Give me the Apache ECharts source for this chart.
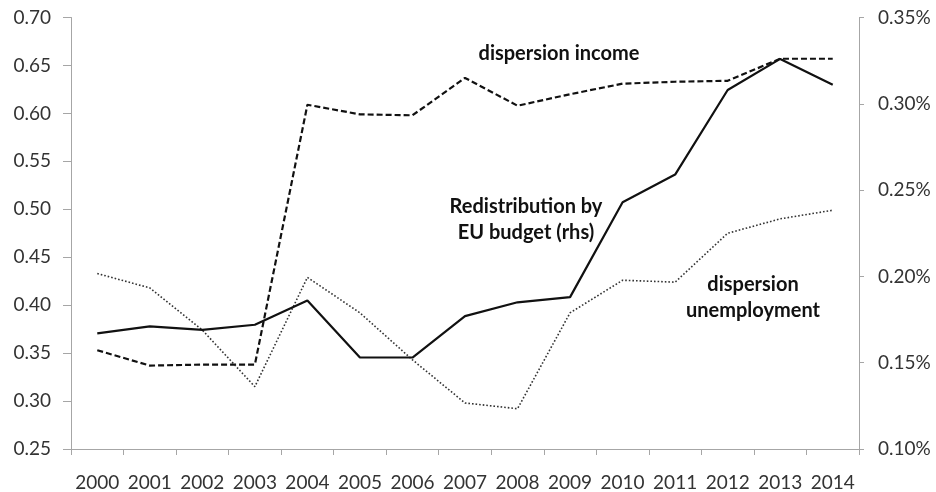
<!DOCTYPE html>
<html>
<head>
<meta charset="utf-8">
<script src="https://cdn.jsdelivr.net/npm/echarts@6/dist/echarts.min.js"></script>
<style>
html,body{margin:0;padding:0;background:#fff;}
#chart{width:936px;height:492px;}
</style>
</head>
<body>
<div id="chart"></div>
<script>
var years = ['2000','2001','2002','2003','2004','2005','2006','2007','2008','2009','2010','2011','2012','2013','2014'];
var dispersionIncome = [0.353, 0.337, 0.338, 0.338, 0.609, 0.599, 0.598, 0.637, 0.608, 0.620, 0.631, 0.633, 0.634, 0.657, 0.657];
var dispersionUnemployment = [0.433, 0.418, 0.374, 0.315, 0.429, 0.392, 0.343, 0.298, 0.292, 0.392, 0.426, 0.424, 0.475, 0.490, 0.499];
var redistributionEU = [0.167, 0.171, 0.169, 0.172, 0.186, 0.153, 0.153, 0.177, 0.185, 0.188, 0.243, 0.259, 0.308, 0.326, 0.311];
var labelIncome = 'dispersion income';
var labelRedistribution = ['Redistribution by', 'EU budget (rhs)'];
var labelUnemployment = ['dispersion', 'unemployment'];

var FONT = 'Lato, sans-serif';
var axisGray = '#a6a6a6';
var labelColor = '#333333';

var chart = echarts.init(document.getElementById('chart'), null, {renderer: 'canvas'});
var annFont = 'bold 20px Lato, sans-serif';
chart.setOption({
  animation: false,
  backgroundColor: '#ffffff',
  grid: {left: 71, right: 77, top: 17.5, bottom: 43, containLabel: false},
  xAxis: {
    type: 'category',
    data: years,
    boundaryGap: true,
    axisLine: {lineStyle: {color: axisGray, width: 1}},
    axisTick: {show: true, length: 6, lineStyle: {color: axisGray}},
    axisLabel: {color: labelColor, fontSize: 19, fontFamily: FONT, margin: 24, interval: 0}
  },
  yAxis: [{
    type: 'value',
    min: 0.25, max: 0.70, interval: 0.05,
    splitLine: {show: false},
    axisLine: {show: true, lineStyle: {color: axisGray, width: 1}},
    axisTick: {show: true, length: 8, lineStyle: {color: axisGray}},
    axisLabel: {color: labelColor, fontSize: 19, fontFamily: FONT, margin: 20,
      formatter: function (v) { return v.toFixed(2); }}
  }, {
    type: 'value',
    position: 'right',
    min: 0.10, max: 0.35, interval: 0.05,
    splitLine: {show: false},
    axisLine: {show: true, lineStyle: {color: axisGray, width: 1}},
    axisTick: {show: true, length: 5, lineStyle: {color: axisGray}},
    axisLabel: {color: labelColor, fontSize: 19, fontFamily: FONT, margin: 19,
      formatter: function (v) { return v.toFixed(2) + '%'; }}
  }],
  series: [{
    name: 'dispersion income',
    type: 'line',
    yAxisIndex: 0,
    data: dispersionIncome,
    symbol: 'none',
    lineStyle: {color: '#111', width: 2.2, type: [6, 3]}
  }, {
    name: 'dispersion unemployment',
    type: 'line',
    yAxisIndex: 0,
    data: dispersionUnemployment,
    symbol: 'none',
    lineStyle: {color: '#333', width: 1.6, type: [1.6, 2]}
  }, {
    name: 'Redistribution by EU budget (rhs)',
    type: 'line',
    yAxisIndex: 1,
    data: redistributionEU,
    symbol: 'none',
    lineStyle: {color: '#111', width: 2.2, type: 'solid'}
  }],
  graphic: [
    {type: 'text', style: {text: labelIncome, x: 559, y: 54, textAlign: 'center', textVerticalAlign: 'middle', font: annFont, fill: '#111'}},
    {type: 'text', style: {text: labelRedistribution[0], x: 526, y: 207, textAlign: 'center', textVerticalAlign: 'middle', font: annFont, fill: '#111'}},
    {type: 'text', style: {text: labelRedistribution[1], x: 526, y: 233, textAlign: 'center', textVerticalAlign: 'middle', font: annFont, fill: '#111'}},
    {type: 'text', style: {text: labelUnemployment[0], x: 753, y: 285, textAlign: 'center', textVerticalAlign: 'middle', font: annFont, fill: '#111'}},
    {type: 'text', style: {text: labelUnemployment[1], x: 753, y: 311, textAlign: 'center', textVerticalAlign: 'middle', font: annFont, fill: '#111'}}
  ]
});
</script>
</body>
</html>
